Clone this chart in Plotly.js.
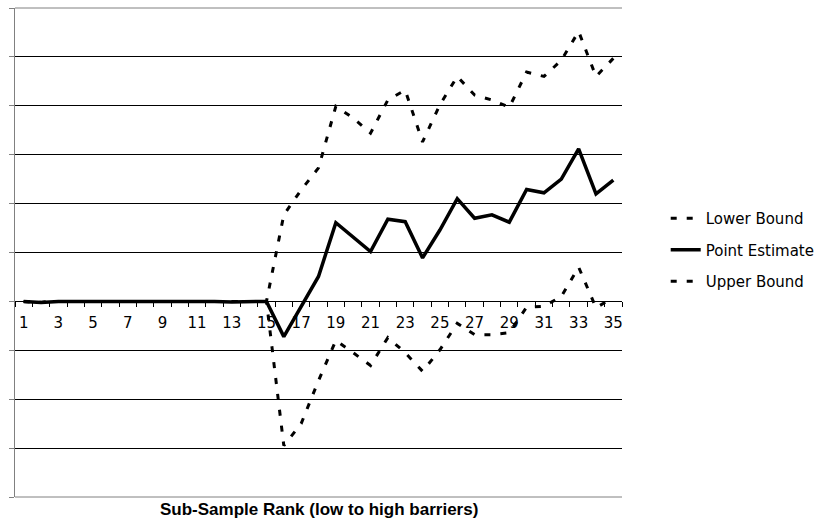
<!DOCTYPE html>
<html>
<head>
<meta charset="utf-8">
<script src="https://cdn.plot.ly/plotly-3.0.1.min.js"></script>
<style>html,body{margin:0;padding:0;background:#fff;}#chart{width:831px;height:527px;}</style>
</head>
<body>
<div id="chart"></div>
<script>
// Sub-sample rank categories (1..35)
const ranks = [1,2,3,4,5,6,7,8,9,10,11,12,13,14,15,16,17,18,19,20,21,22,23,24,25,26,27,28,29,30,31,32,33,34,35];

// Series values (one gridline = 1 unit)
const lowerBound = [0,-0.02,0,0,0,0,0,0,0,0,0,0,0,0,0,
  -2.95,-2.5,-1.62,-0.8,-1.05,-1.31,-0.74,-1.05,-1.43,-0.99,
  -0.45,-0.68,-0.68,-0.64,-0.12,-0.1,0.1,0.7,-0.13,0.08];
const pointEstimate = [0,-0.02,0,0,0.01,0,0,0,0,0,0,0,-0.01,0,0,
  -0.72,-0.09,0.51,1.61,1.32,1.02,1.68,1.63,0.89,1.46,
  2.1,1.7,1.77,1.62,2.29,2.22,2.5,3.12,2.2,2.48];
const upperBound = [0,-0.02,0,0,0,0,0,0,0,0,0,0,0,0,0,
  1.77,2.28,2.73,3.99,3.75,3.44,4.12,4.32,3.26,4.02,
  4.6,4.22,4.12,3.97,4.69,4.6,4.93,5.52,4.6,4.97];

// Tick labels on the category axis (every other rank)
const tickRanks = [1,3,5,7,9,11,13,15,17,19,21,23,25,27,29,31,33,35];
const tickLabels = tickRanks.map(String);
const boundaryTicks = [0.5].concat(ranks.map(r => r + 0.5));

const seriesNames = ['Lower Bound','Point Estimate','Upper Bound'];
const xTitle = 'Sub-Sample Rank (low to high barriers)';

const dashStyle = '6px,10px';
const traces = [
  {x: ranks, y: lowerBound, name: seriesNames[0], type: 'scatter', mode: 'lines', legendgroup: 'a',
   line: {color: '#000', width: 3, dash: dashStyle}},
  {x: ranks, y: pointEstimate, name: seriesNames[1], type: 'scatter', mode: 'lines', legendgroup: 'b',
   line: {color: '#000', width: 3.5}},
  {x: ranks, y: upperBound, name: seriesNames[2], type: 'scatter', mode: 'lines', legendgroup: 'c',
   line: {color: '#000', width: 3, dash: dashStyle}}
];

const layout = {
  width: 831, height: 527,
  margin: {l: 15, r: 209, t: 8, b: 30},
  paper_bgcolor: '#fff', plot_bgcolor: '#fff',
  showlegend: true,
  legend: {x: 1.072, xanchor: 'left', y: 0.505, yanchor: 'middle', tracegroupgap: 9,
           traceorder: 'grouped', font: {family: 'DejaVu Sans', size: 15, color: '#000'},
           bgcolor: 'rgba(0,0,0,0)'},
  xaxis: {anchor: 'free', position: 0.4, range: [0.5, 35.5],
          showgrid: false, zeroline: false, showline: true, linecolor: '#000', linewidth: 1,
          ticks: '', tickmode: 'array', tickvals: tickRanks, ticktext: tickLabels, ticklabelstandoff: 8,
          tickfont: {family: 'DejaVu Sans', size: 15, color: '#000'}, fixedrange: true,
          minor: {tickmode: 'array', tickvals: boundaryTicks, ticks: 'outside', ticklen: 5,
                  tickcolor: '#000', tickwidth: 1, showgrid: false}},
  yaxis: {range: [-4, 6], tick0: 0, dtick: 1, showgrid: true, gridcolor: '#000', gridwidth: 1,
          zeroline: false, showline: true, linecolor: '#808080', linewidth: 1,
          ticks: 'outside', ticklen: 5, tickcolor: '#808080', showticklabels: false, fixedrange: true},
  shapes: [
    {type: 'line', xref: 'paper', yref: 'paper', x0: 0, x1: 1, y0: 0, y1: 0,
     line: {color: '#808080', width: 1}, layer: 'below'},
    {type: 'line', xref: 'paper', yref: 'paper', x0: 0, x1: 1, y0: 1, y1: 1,
     line: {color: '#808080', width: 1}, layer: 'below'}
  ],
  annotations: [
    {text: xTitle, xref: 'paper', yref: 'paper', x: 0.5, y: 0, xanchor: 'center', yanchor: 'top',
     yshift: -1, showarrow: false,
     font: {family: 'Liberation Sans', size: 17, weight: 'bold', color: '#000'}}
  ]
};

Plotly.newPlot('chart', traces, layout, {displayModeBar: false, staticPlot: true});
</script>
</body>
</html>
